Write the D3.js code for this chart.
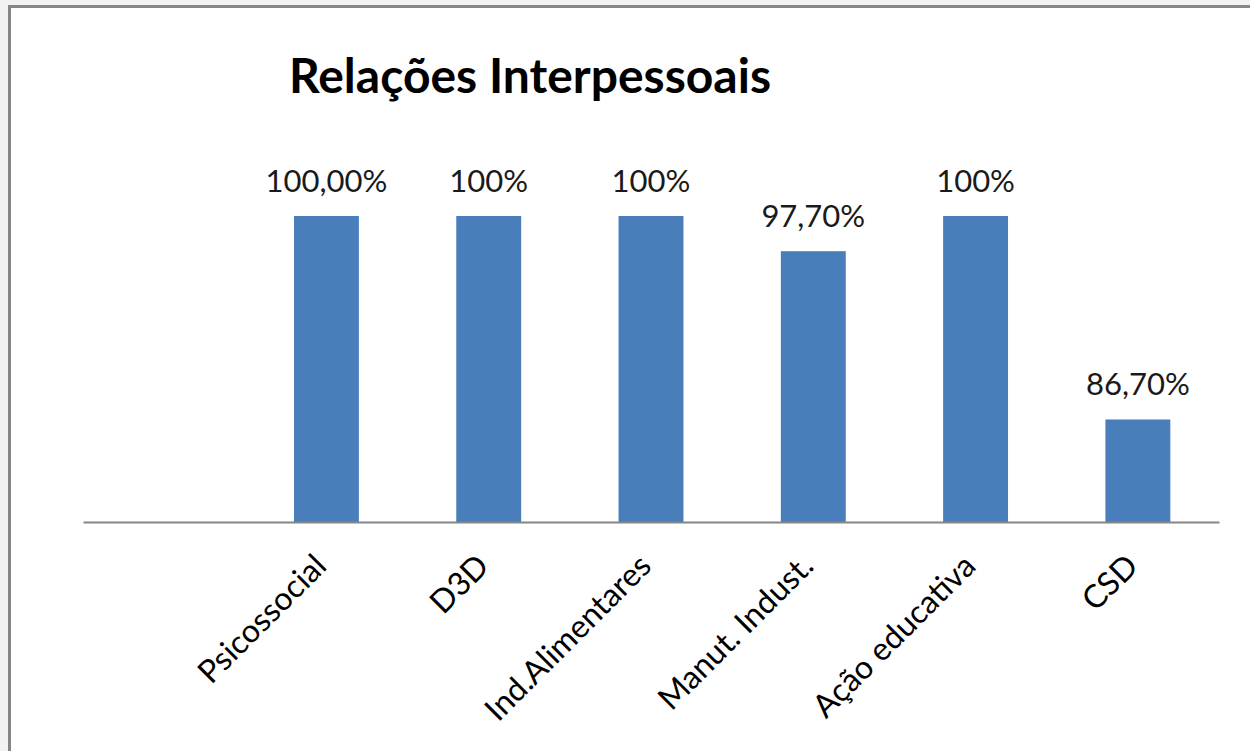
<!DOCTYPE html>
<html>
<head>
<meta charset="utf-8">
<script src="https://cdn.jsdelivr.net/npm/d3@7"></script>
<style>
  html, body { margin: 0; padding: 0; background: #f2f2f2; }
  svg { display: block; }
  text { font-family: Lato, "Open Sans", sans-serif; }
</style>
</head>
<body>
<svg id="chart" width="1250" height="751"></svg>
<script>
// ---- data ----
const title = "Relações Interpessoais";
const categories = ["", "Psicossocial", "D3D", "Ind.Alimentares", "Manut. Indust.", "Ação educativa", "CSD"];
const values = [null, 1.0, 1.0, 1.0, 0.977, 1.0, 0.867];
const valueLabels = ["", "100,00%", "100%", "100%", "97,70%", "100%", "86,70%"];
const yDomain = [0.8, 1.0];

// ---- layout ----
const svg = d3.select("#chart");
const W = 1250, H = 751;
const plot = { left: 83, right: 1219, top: 216, bottom: 522 };

// frame
svg.append("rect").attr("x", 9.5).attr("y", 6.5).attr("width", W + 10).attr("height", H + 10)
  .attr("fill", "#ffffff").attr("stroke", "#868686").attr("stroke-width", 3);

const x = d3.scaleBand().domain(categories).range([plot.left, plot.right])
  .paddingInner(0.6).paddingOuter(0.3);
const y = d3.scaleLinear().domain(yDomain).range([plot.bottom, plot.top]);

const data = categories.map((c, i) => ({ c, v: values[i], lab: valueLabels[i] }))
  .filter(d => d.v !== null);

// bars
svg.append("g").selectAll("rect").data(data).join("rect")
  .attr("x", d => x(d.c))
  .attr("y", d => y(d.v))
  .attr("width", x.bandwidth())
  .attr("height", d => y(yDomain[0]) - y(d.v))
  .attr("fill", "#4a7ebb");

// value labels
svg.append("g").selectAll("text").data(data).join("text")
  .attr("x", d => x(d.c) + x.bandwidth() / 2)
  .attr("y", d => y(d.v) - 24)
  .attr("text-anchor", "middle")
  .attr("font-size", 31)
  .attr("fill", "#1a1a1a")
  .text(d => d.lab);

// x axis
const xAxis = d3.axisBottom(x).tickSize(0).tickSizeOuter(0).tickFormat(d => d);
const gx = svg.append("g").attr("transform", `translate(0,${y(yDomain[0])})`).call(xAxis);
gx.select(".domain").attr("stroke", "#868686").attr("stroke-width", 2);
gx.selectAll(".tick text")
  .attr("font-size", 32)
  .attr("font-family", "Lato, 'Open Sans', sans-serif")
  .attr("fill", "#000")
  .attr("text-anchor", "end")
  .attr("x", 0).attr("y", 0).attr("dy", 0)
  .attr("transform", "translate(2,46) rotate(-45)");

// title
svg.append("text")
  .attr("x", 530).attr("y", 93)
  .attr("text-anchor", "middle")
  .attr("font-size", 48)
  .attr("font-weight", "bold")
  .attr("fill", "#000")
  .text(title);
</script>
</body>
</html>
